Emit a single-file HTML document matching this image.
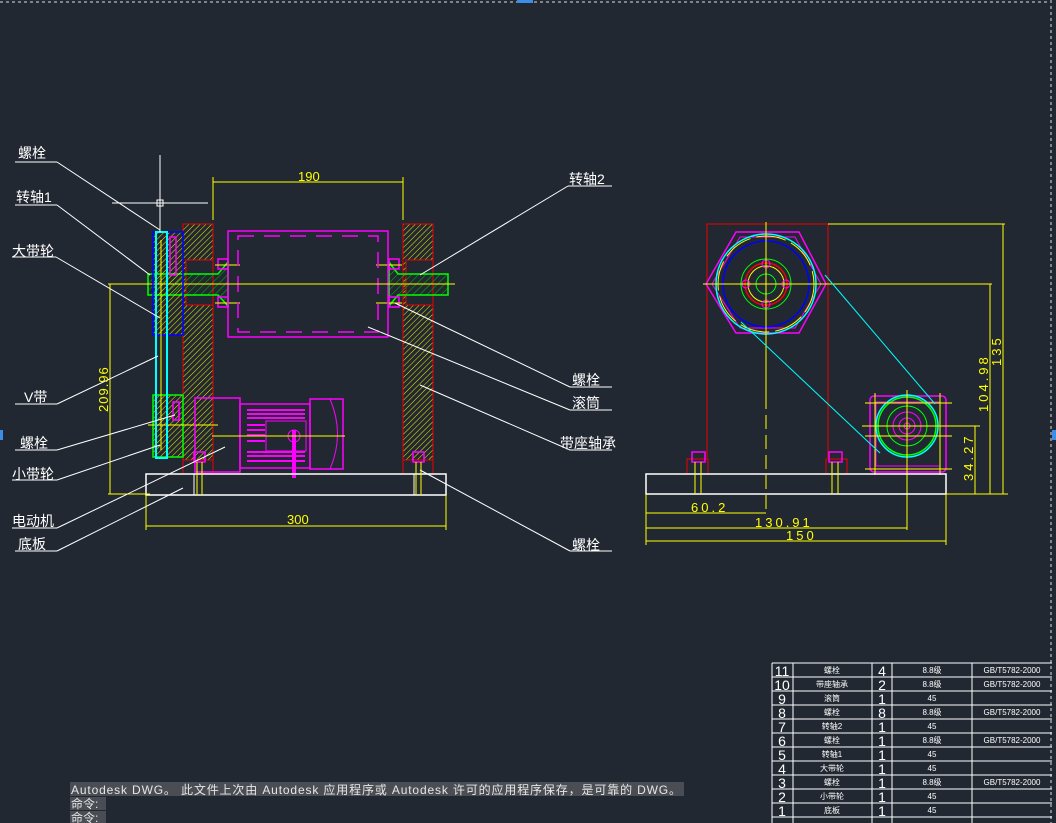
<!DOCTYPE html>
<html><head><meta charset="utf-8"><style>
html,body{margin:0;padding:0;background:#222832;}
svg{display:block}
text{font-family:"Liberation Sans","Noto Sans CJK SC",sans-serif;}
.mono{font-family:"Liberation Mono","Noto Sans CJK SC",monospace;}
</style></head><body>
<svg width="1056" height="823" viewBox="0 0 1056 823" xmlns="http://www.w3.org/2000/svg">
<defs>
<pattern id="h" width="4" height="4" patternUnits="userSpaceOnUse" patternTransform="rotate(45)">
<line x1="0" y1="0" x2="0" y2="4" stroke="#f0f000" stroke-width="1"/></pattern>
<pattern id="hg" width="5" height="5" patternUnits="userSpaceOnUse" patternTransform="rotate(45)">
<line x1="0" y1="0" x2="0" y2="5" stroke="#00c000" stroke-width="1"/></pattern>
</defs>
<rect width="1056" height="823" fill="#222832"/>
<line x1="0" y1="2" x2="1050" y2="2" stroke="#ddd" stroke-dasharray="3 3" stroke-width="1"/>
<line x1="1051" y1="0" x2="1051" y2="823" stroke="#ddd" stroke-dasharray="3 3" stroke-width="1"/>
<rect x="517" y="0" width="16" height="3" fill="#3a8ee6"/>
<rect x="0" y="430" width="3" height="10" fill="#3a8ee6"/>
<rect x="1052" y="430" width="4" height="10" fill="#3a8ee6"/>

<g fill="none" stroke-width="1">
<rect x="183" y="224" width="30" height="236" fill="url(#h)" stroke="#e00"/>
<rect x="403" y="224" width="30" height="236" fill="url(#h)" stroke="#e00"/>
<rect x="186" y="260" width="27" height="45" fill="#222832" stroke="#e00"/>
<rect x="406" y="260" width="27" height="45" fill="#222832" stroke="#e00"/>
<line x1="183" y1="460" x2="183" y2="474" stroke="#e00"/><line x1="213" y1="460" x2="213" y2="474" stroke="#e00"/>
<line x1="403" y1="460" x2="403" y2="474" stroke="#e00"/><line x1="433" y1="460" x2="433" y2="474" stroke="#e00"/>
<path d="M148 274 H218 L228 262 V306 L218 295 H148 Z" fill="url(#hg)" stroke="#0f0" stroke-width="1.5"/>
<path d="M448 274 H398 L389 262 V306 L398 295 H448 Z" fill="url(#hg)" stroke="#0f0" stroke-width="1.5"/>
<rect x="218" y="259" width="10" height="10" stroke="#f0f" stroke-width="1.5"/>
<rect x="218" y="297" width="10" height="10" stroke="#f0f" stroke-width="1.5"/>
<rect x="389" y="259" width="10" height="10" stroke="#f0f" stroke-width="1.5"/>
<rect x="389" y="297" width="10" height="10" stroke="#f0f" stroke-width="1.5"/>
<line x1="215" y1="265" x2="240" y2="265" stroke="#ff0"/><line x1="215" y1="303" x2="240" y2="303" stroke="#ff0"/>
<line x1="376" y1="265" x2="402" y2="265" stroke="#ff0"/><line x1="376" y1="303" x2="402" y2="303" stroke="#ff0"/>
<rect x="228" y="231" width="160" height="106" stroke="#f0f" stroke-width="1.5"/>
<rect x="238" y="236" width="140" height="96" stroke="#f0f" stroke-width="1.5" stroke-dasharray="16 10"/>
<line x1="228" y1="284" x2="388" y2="284" stroke="#f0f"/>
<line x1="140" y1="284" x2="455" y2="284" stroke="#ff0"/>
<rect x="153" y="232" width="30" height="103" fill="url(#h)" stroke="#00f" stroke-width="1.5"/>
<rect x="170" y="237" width="6" height="38" stroke="#f0f" stroke-width="1.5"/>
<rect x="153" y="395" width="30" height="62" fill="url(#h)" stroke="#0f0" stroke-width="1.5"/>
<rect x="173" y="402" width="6" height="18" stroke="#f0f" stroke-width="1.5"/>
<line x1="148" y1="425" x2="218" y2="425" stroke="#ff0"/>
<rect x="156" y="232" width="11" height="226" stroke="#0ff" stroke-width="2"/>
<line x1="161" y1="240" x2="161" y2="450" stroke="#ff0"/>
<rect x="195" y="398" width="45" height="74" stroke="#f0f" stroke-width="1.5"/>
<rect x="240" y="404" width="70" height="64" stroke="#f0f" stroke-width="1.5"/>
<g stroke="#f0f" stroke-width="2">
<line x1="247" y1="410" x2="305" y2="410"/><line x1="247" y1="414" x2="305" y2="414"/><line x1="247" y1="418" x2="305" y2="418"/>
<line x1="247" y1="425" x2="265" y2="425"/><line x1="247" y1="430" x2="265" y2="430"/><line x1="247" y1="435" x2="265" y2="435"/><line x1="247" y1="441" x2="265" y2="441"/>
<line x1="247" y1="452" x2="305" y2="452"/><line x1="247" y1="456" x2="305" y2="456"/><line x1="247" y1="461" x2="305" y2="461"/>
</g>
<rect x="266" y="421" width="40" height="30" stroke="#f0f"/>
<rect x="310" y="399" width="33" height="70" stroke="#f0f" stroke-width="1.5"/>
<path d="M330 399 Q345 434 330 469" stroke="#f0f"/>
<line x1="294" y1="430" x2="294" y2="478" stroke="#f0f" stroke-width="4"/>
<circle cx="294" cy="436" r="6" stroke="#f0f"/>
<line x1="212" y1="436" x2="345" y2="436" stroke="#ff0"/>
<rect x="146" y="474" width="300" height="21" stroke="#fff" stroke-width="1.5"/>
<line x1="194" y1="474" x2="194" y2="495" stroke="#fff"/><line x1="414" y1="474" x2="414" y2="495" stroke="#fff"/>
<rect x="194" y="452" width="11" height="10" stroke="#f0f" stroke-width="1.5"/>
<rect x="413" y="452" width="11" height="10" stroke="#f0f" stroke-width="1.5"/>
<line x1="197" y1="462" x2="197" y2="495" stroke="#ff0"/><line x1="202" y1="462" x2="202" y2="495" stroke="#ff0"/>
<line x1="416" y1="462" x2="416" y2="495" stroke="#ff0"/><line x1="421" y1="462" x2="421" y2="495" stroke="#ff0"/>
<g stroke="#ff0">
<line x1="213" y1="177" x2="213" y2="220"/><line x1="403" y1="177" x2="403" y2="220"/>
<line x1="213" y1="182" x2="403" y2="182"/>
<line x1="108" y1="284" x2="150" y2="284"/><line x1="108" y1="494" x2="150" y2="494"/>
<line x1="110" y1="284" x2="110" y2="494"/>
<line x1="146" y1="495" x2="146" y2="530"/><line x1="446" y1="495" x2="446" y2="530"/>
<line x1="146" y1="526" x2="446" y2="526"/>
</g>
<g stroke="#fff">
<line x1="112" y1="203" x2="208" y2="203"/><line x1="160" y1="155" x2="160" y2="232"/>
<rect x="157" y="200" width="6" height="6"/>
</g>
<g stroke="#fff">
<line x1="15" y1="162" x2="57" y2="162"/><line x1="57" y1="162" x2="160" y2="230"/>
<line x1="15" y1="205" x2="57" y2="205"/><line x1="57" y1="205" x2="150" y2="275"/>
<line x1="12" y1="257" x2="56" y2="257"/><line x1="56" y1="257" x2="160" y2="318"/>
<line x1="15" y1="404" x2="57" y2="404"/><line x1="57" y1="404" x2="158" y2="356"/>
<line x1="15" y1="450" x2="57" y2="450"/><line x1="57" y1="450" x2="175" y2="415"/>
<line x1="12" y1="480" x2="57" y2="480"/><line x1="57" y1="480" x2="160" y2="445"/>
<line x1="12" y1="528" x2="57" y2="528"/><line x1="57" y1="528" x2="225" y2="447"/>
<line x1="15" y1="551" x2="57" y2="551"/><line x1="57" y1="551" x2="183" y2="488"/>
<line x1="568" y1="186" x2="612" y2="186"/><line x1="568" y1="186" x2="420" y2="275"/>
<line x1="570" y1="387" x2="612" y2="387"/><line x1="570" y1="387" x2="395" y2="303"/>
<line x1="570" y1="410" x2="612" y2="410"/><line x1="570" y1="410" x2="368" y2="327"/>
<line x1="570" y1="450" x2="612" y2="450"/><line x1="570" y1="450" x2="420" y2="385"/>
<line x1="570" y1="551" x2="612" y2="551"/><line x1="570" y1="551" x2="420" y2="470"/>
</g>

<path d="M707 458 V224 H828 V458" stroke="#e00"/>
<rect x="687" y="459" width="21" height="15" stroke="#e00"/><rect x="826" y="459" width="21" height="15" stroke="#e00"/>
<polygon points="706,284 736,232 799,232 826,284 799,333 736,333" stroke="#f0f" stroke-width="1.5"/>
<polygon points="712,284 740,237 795,237 821,284 795,328 740,328" stroke="#f0f"/>
<circle cx="766" cy="284" r="50" stroke="#0ff" stroke-width="1.5"/>
<circle cx="766" cy="284" r="48" stroke="#ff0" stroke-dasharray="30 6"/>
<circle cx="766" cy="284" r="43" stroke="#00f" stroke-width="1.5"/>
<circle cx="766" cy="284" r="25" stroke="#0f0"/>
<circle cx="766" cy="284" r="21" stroke="#e00" stroke-width="1.5"/>
<circle cx="766" cy="284" r="18" stroke="#ff0"/>
<circle cx="766" cy="284" r="10" stroke="#0f0"/>
<g stroke="#f0f"><circle cx="766" cy="264" r="4"/><circle cx="766" cy="304" r="4"/><circle cx="746" cy="284" r="4"/><circle cx="786" cy="284" r="4"/></g>
<line x1="703" y1="284" x2="992" y2="284" stroke="#ff0"/>
<line x1="766" y1="222" x2="766" y2="395" stroke="#ff0"/>
<line x1="766" y1="395" x2="766" y2="512" stroke="#ff0" stroke-dasharray="14 6"/>
<line x1="828" y1="224" x2="1005" y2="224" stroke="#ff0"/>
<rect x="870" y="396" width="76" height="76" rx="4" stroke="#f0f" stroke-width="1.5"/>
<rect x="876" y="402" width="64" height="64" stroke="#f0f"/>
<circle cx="907" cy="426" r="31" stroke="#0ff" stroke-width="1.5"/>
<circle cx="907" cy="426" r="29" stroke="#0f0" stroke-width="1.5"/>
<circle cx="907" cy="426" r="20" stroke="#0f0"/>
<circle cx="907" cy="426" r="14" stroke="#f0f"/>
<circle cx="907" cy="426" r="8" stroke="#f0f"/>
<circle cx="907" cy="426" r="3" stroke="#f0f"/>
<g stroke="#ff0"><line x1="865" y1="403" x2="952" y2="403"/><line x1="862" y1="426" x2="955" y2="426"/><line x1="865" y1="436" x2="952" y2="436"/><line x1="865" y1="469" x2="952" y2="469"/>
<line x1="875" y1="393" x2="875" y2="475"/><line x1="907" y1="390" x2="907" y2="530"/><line x1="940" y1="393" x2="940" y2="475"/></g>
<line x1="825" y1="275" x2="935" y2="404" stroke="#0ff"/>
<line x1="741" y1="322" x2="880" y2="453" stroke="#0ff"/>
<rect x="646" y="474" width="300" height="20" stroke="#fff" stroke-width="1.5"/>
<rect x="692" y="452" width="13" height="10" stroke="#f0f" stroke-width="1.5"/>
<rect x="829" y="452" width="13" height="10" stroke="#f0f" stroke-width="1.5"/>
<line x1="695" y1="462" x2="695" y2="494" stroke="#ff0"/><line x1="701" y1="462" x2="701" y2="494" stroke="#ff0"/>
<line x1="832" y1="462" x2="832" y2="494" stroke="#ff0"/><line x1="838" y1="462" x2="838" y2="494" stroke="#ff0"/>
<g stroke="#ff0">
<line x1="946" y1="494" x2="1008" y2="494"/>
<line x1="946" y1="426" x2="980" y2="426"/>
<line x1="1003" y1="224" x2="1003" y2="494"/>
<line x1="990" y1="284" x2="990" y2="494"/>
<line x1="975" y1="426" x2="975" y2="494"/>
<line x1="646" y1="494" x2="646" y2="545"/><line x1="946" y1="494" x2="946" y2="545"/>
<line x1="646" y1="513" x2="766" y2="513"/>
<line x1="646" y1="528" x2="907" y2="528"/>
<line x1="646" y1="541" x2="946" y2="541"/>
</g>

<g stroke="#fff">
<line x1="772" y1="663" x2="1052" y2="663"/>
<line x1="772" y1="677" x2="1052" y2="677"/><line x1="772" y1="691" x2="1052" y2="691"/>
<line x1="772" y1="705" x2="1052" y2="705"/><line x1="772" y1="719" x2="1052" y2="719"/>
<line x1="772" y1="733" x2="1052" y2="733"/><line x1="772" y1="747" x2="1052" y2="747"/>
<line x1="772" y1="761" x2="1052" y2="761"/><line x1="772" y1="775" x2="1052" y2="775"/>
<line x1="772" y1="789" x2="1052" y2="789"/><line x1="772" y1="803" x2="1052" y2="803"/>
<line x1="772" y1="817" x2="1052" y2="817"/>
<line x1="772" y1="663" x2="772" y2="823"/><line x1="793" y1="663" x2="793" y2="823"/>
<line x1="872" y1="663" x2="872" y2="823"/><line x1="892" y1="663" x2="892" y2="823"/>
<line x1="972" y1="663" x2="972" y2="823"/>
</g>
</g>

<g fill="#fff" font-size="14">
<text x="18" y="158">螺栓</text>
<text x="16" y="202">转轴1</text>
<text x="12" y="256">大带轮</text>
<text x="24" y="402">V带</text>
<text x="20" y="448">螺栓</text>
<text x="12" y="479">小带轮</text>
<text x="12" y="526">电动机</text>
<text x="18" y="549">底板</text>
<text x="569" y="184">转轴2</text>
<text x="572" y="385">螺栓</text>
<text x="572" y="408">滚筒</text>
<text x="560" y="448">带座轴承</text>
<text x="572" y="550">螺栓</text>
</g>
<g fill="#ff0" font-size="13" class="mono">
<text x="298" y="181">190</text>
<text x="287" y="524">300</text>
<text transform="translate(108,412) rotate(-90)" letter-spacing="1">209.96</text>
<text x="691" y="512" letter-spacing="3">60.2</text>
<text x="755" y="527" letter-spacing="3">130.91</text>
<text x="786" y="540" letter-spacing="3">150</text>
<text transform="translate(1001,366) rotate(-90)" letter-spacing="3">135</text>
<text transform="translate(988,412) rotate(-90)" letter-spacing="3">104.98</text>
<text transform="translate(973,481) rotate(-90)" letter-spacing="3">34.27</text>
</g>
<g fill="#fff" font-size="8" text-anchor="middle">
<g font-size="14" class="mono"><text x="782" y="676">11</text><text x="782" y="690">10</text><text x="782" y="704">9</text><text x="782" y="718">8</text><text x="782" y="732">7</text><text x="782" y="746">6</text><text x="782" y="760">5</text><text x="782" y="774">4</text><text x="782" y="788">3</text><text x="782" y="802">2</text><text x="782" y="816">1</text>
<text x="882" y="676">4</text><text x="882" y="690">2</text><text x="882" y="704">1</text><text x="882" y="718">8</text><text x="882" y="732">1</text><text x="882" y="746">1</text><text x="882" y="760">1</text><text x="882" y="774">1</text><text x="882" y="788">1</text><text x="882" y="802">1</text><text x="882" y="816">1</text></g>
<text x="832" y="673">螺栓</text><text x="832" y="687">带座轴承</text><text x="832" y="701">滚筒</text><text x="832" y="715">螺栓</text><text x="832" y="729">转轴2</text><text x="832" y="743">螺栓</text><text x="832" y="757">转轴1</text><text x="832" y="771">大带轮</text><text x="832" y="785">螺栓</text><text x="832" y="799">小带轮</text><text x="832" y="813">底板</text>
<text x="932" y="673">8.8级</text><text x="932" y="687">8.8级</text><text x="932" y="701">45</text><text x="932" y="715">8.8级</text><text x="932" y="729">45</text><text x="932" y="743">8.8级</text><text x="932" y="757">45</text><text x="932" y="771">45</text><text x="932" y="785">8.8级</text><text x="932" y="799">45</text><text x="932" y="813">45</text>
<text x="1012" y="673">GB/T5782-2000</text><text x="1012" y="687">GB/T5782-2000</text><text x="1012" y="715">GB/T5782-2000</text><text x="1012" y="743">GB/T5782-2000</text><text x="1012" y="785">GB/T5782-2000</text>
</g>
<rect x="70" y="782" width="614" height="14" fill="#4a4e54"/>
<rect x="70" y="797" width="36" height="13" fill="#4a4e54"/>
<rect x="70" y="811" width="36" height="12" fill="#4a4e54"/>
<g fill="#e6e6e6" font-size="12" class="mono">
<text x="71" y="794" textLength="610" lengthAdjust="spacing">Autodesk DWG。 此文件上次由 Autodesk 应用程序或 Autodesk 许可的应用程序保存，是可靠的 DWG。</text>
<text x="71" y="808">命令:</text>
<text x="71" y="822">命令:</text>
</g>
</svg>
</body></html>
